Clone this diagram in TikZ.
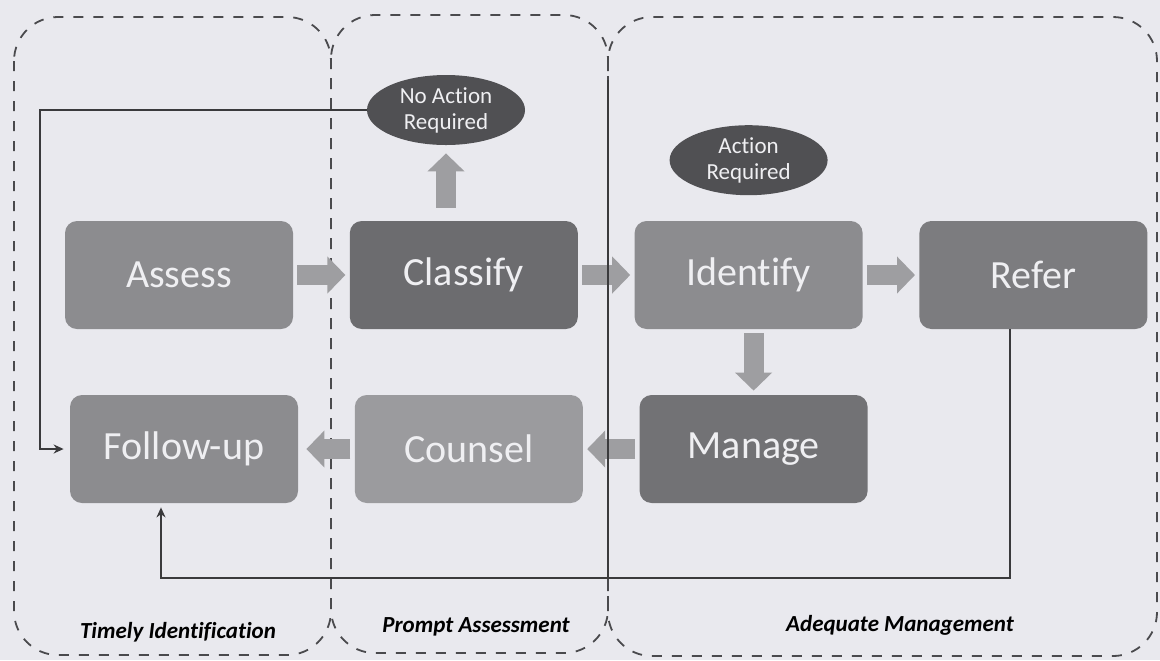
\documentclass[tikz,border=0pt]{standalone}
\usepackage{fontspec}
\setmainfont{Carlito}[Ligatures={NoCommon}]
\usepackage{tikz}
\usepackage{xcolor}
\usetikzlibrary{shapes.geometric, arrows.meta, positioning}

\definecolor{paper}{HTML}{E9E9EE}
\definecolor{stagetext}{HTML}{EFEFF2}
\definecolor{fillA}{HTML}{8C8C8F}
\definecolor{fillB}{HTML}{6C6C6F}
\definecolor{fillC}{HTML}{7C7C7F}
\definecolor{fillD}{HTML}{9B9B9E}
\definecolor{fillE}{HTML}{727275}
\definecolor{outcomefill}{HTML}{505053}
\definecolor{arrowfill}{HTML}{9E9EA1}
\definecolor{linkgray}{HTML}{3A3A3C}
\definecolor{zonegray}{HTML}{4A4A4D}

\begin{document}
\begin{tikzpicture}[
  x=0.5pt, y=-0.5pt,
  node distance=32.5pt and 28pt,
  stage/.style={rectangle, rounded corners=6pt,
                minimum width=114pt, minimum height=54pt,
                align=center, font=\fontsize{20}{22}\selectfont,
                text=stagetext},
  outcome/.style={ellipse, fill=outcomefill, inner sep=0pt,
                  minimum width=79pt, minimum height=35pt,
                  align=center, font=\fontsize{11.5}{13}\selectfont,
                  text=stagetext},
  fatarr/.style={-{Triangle[width=18pt, length=9pt]}, line width=10pt,
                 color=arrowfill, shorten <=2pt, shorten >=2pt},
  link/.style={-{Stealth[length=5pt, width=4.5pt]}, line width=1pt, color=linkgray},
  zone/.style={dash pattern=on 5pt off 5pt, line width=0.9pt,
               color=zonegray, rounded corners=22pt},
  zonelabel/.style={font=\bfseries\itshape\fontsize{11.5}{13}\selectfont, text=black}
]
  %% ── Page background ───────────────────────────────────────────────
  \fill[paper] (0,0) rectangle (1160,660);

  %% ── Dashed zones ──────────────────────────────────────────────────
  \draw[zone] (14,17)  rectangle (331,655);
  \draw[zone] (331,15) rectangle (608,653);
  \draw[zone] (608,17) rectangle (1157,656);

  %% ── Row 1: assess -> classify -> identify -> refer ────────────────
  \node[stage, fill=fillA] (assess) at (179,275) {Assess};
  \node[stage, fill=fillB, right=of assess]   (classify) {Classify};
  \node[stage, fill=fillA, right=of classify] (identify) {Identify};
  \node[stage, fill=fillC, right=of identify] (refer)    {Refer};

  %% ── Row 2: follow-up <- counsel <- manage ─────────────────────────
  \node[stage, fill=fillA] (followup) at (184,449) {Follow-up};
  \node[stage, fill=fillD, right=of followup] (counsel)  {Counsel};
  \node[stage, fill=fillE, right=of counsel]  (manage)   {Manage};

  %% ── Outcomes ──────────────────────────────────────────────────────
  \node[outcome] (noact) at (446,110) {No Action\\Required};
  \node[outcome, above=12.5pt of identify] (act) {Action\\Required};

  %% ── Block arrows ──────────────────────────────────────────────────
  \draw[fatarr] (assess)   -- (classify);
  \draw[fatarr] (classify) -- (identify);
  \draw[fatarr] (identify) -- (refer);
  \draw[fatarr] (identify.south -| manage.north) -- (manage.north);
  \draw[fatarr] (manage)   -- (counsel);
  \draw[fatarr, shorten >=4pt] (counsel) -- (followup);
  \draw[fatarr, shorten <=6.5pt, shorten >=4pt] (noact.south |- classify.north) -- (noact.south);

  %% ── Feedback lines ────────────────────────────────────────────────
  \draw[link, -] (608,80) -- (608,578);
  \draw[link, shorten >=3pt] (noact.west) -| ([xshift=-15pt]followup.west) -- (followup.west);
  \coordinate (loopB) at (0,578);
  \draw[link, shorten >=2pt] ([xshift=-11.5pt]refer.south) -- ([xshift=-11.5pt]refer.south |- loopB)
        -| ([xshift=-11.5pt]followup.south);

  %% ── Zone labels ───────────────────────────────────────────────────
  \node[zonelabel] (lblTimely)   at (178,632) {Timely Identification};
  \node[zonelabel] (lblPrompt)   at (476,627) {Prompt Assessment};
  \node[zonelabel] (lblAdequate) at (900,625) {Adequate Management};
\end{tikzpicture}
\end{document}
